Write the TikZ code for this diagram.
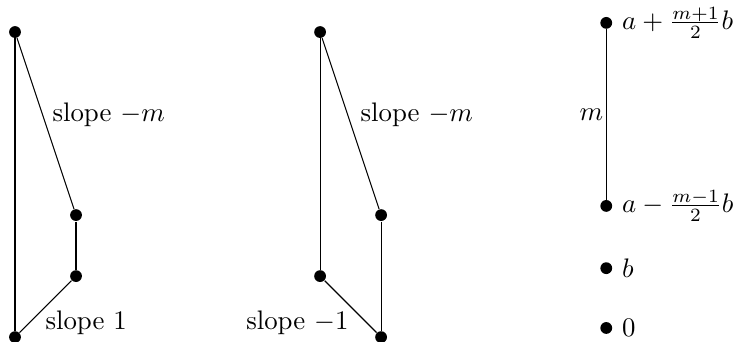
\documentclass[tikz,border=0pt]{standalone}
\usepackage{amsmath}
\usepackage{amssymb}
\usetikzlibrary{positioning}
\tikzset{
  dot/.style={circle,fill=black,inner sep=0pt,minimum size=4.4pt},
  edge/.style={draw=black,line width=0.4pt}
}

\begin{document}
\begin{tikzpicture}[x=0.8cm,y=0.8cm]
        \useasboundingbox (-0.246,-0.066) rectangle (11.8,5.525);

        % Erste Figur
        \node[dot] (lt) at (0,5){};
        \node[dot] (lb) at (0,0){};
        \node[dot] (lu) at (1,2){};
        \node[dot] (ll) at (1,1){};
        \draw[edge] (lt)--(lb);
        \draw[edge] (lt)--(lu);
        \draw[edge] (lu)--(ll);
        \draw[edge] (ll)--(lb);
        \node[anchor=west] (lslm) at (0.46,3.64){slope $-m$};
        \node[anchor=west] (lslo) at (0.345,0.23){slope $1$};

        % Zweite Figur
        \node[dot] (mt) at (5,5){};
        \node[dot] (ml) at (5,1){};
        \node[dot] (mu) at (6,2){};
        \node[dot] (mb) at (6,0){};
        \draw[edge] (mt)--(ml);
        \draw[edge] (mt)--(mu);
        \draw[edge] (mu)--(mb);
        \draw[edge] (ml)--(mb);
        \node[anchor=west] (mslm) at (5.51,3.64){slope $-m$};
        \node[anchor=east] (mslo) at (5.62,0.23){slope $-1$};

        % Werte
        \node[dot,label=right:{$a+\frac{m+1}{2}b$}] (rt) at (9.69,5.15){};
        \node[dot,label=right:{$a-\frac{m-1}{2}b$}] (ru) at (9.69,2.15){};
        \node[dot,label=right:{$b$}] (rb) at (9.69,1.13){};
        \node[dot,label=right:{$0$}] (rz) at (9.69,0.15){};
        \draw[edge] (rt)--node[left,inner sep=1pt]{$m$}(ru);
      \end{tikzpicture}
\end{document}
